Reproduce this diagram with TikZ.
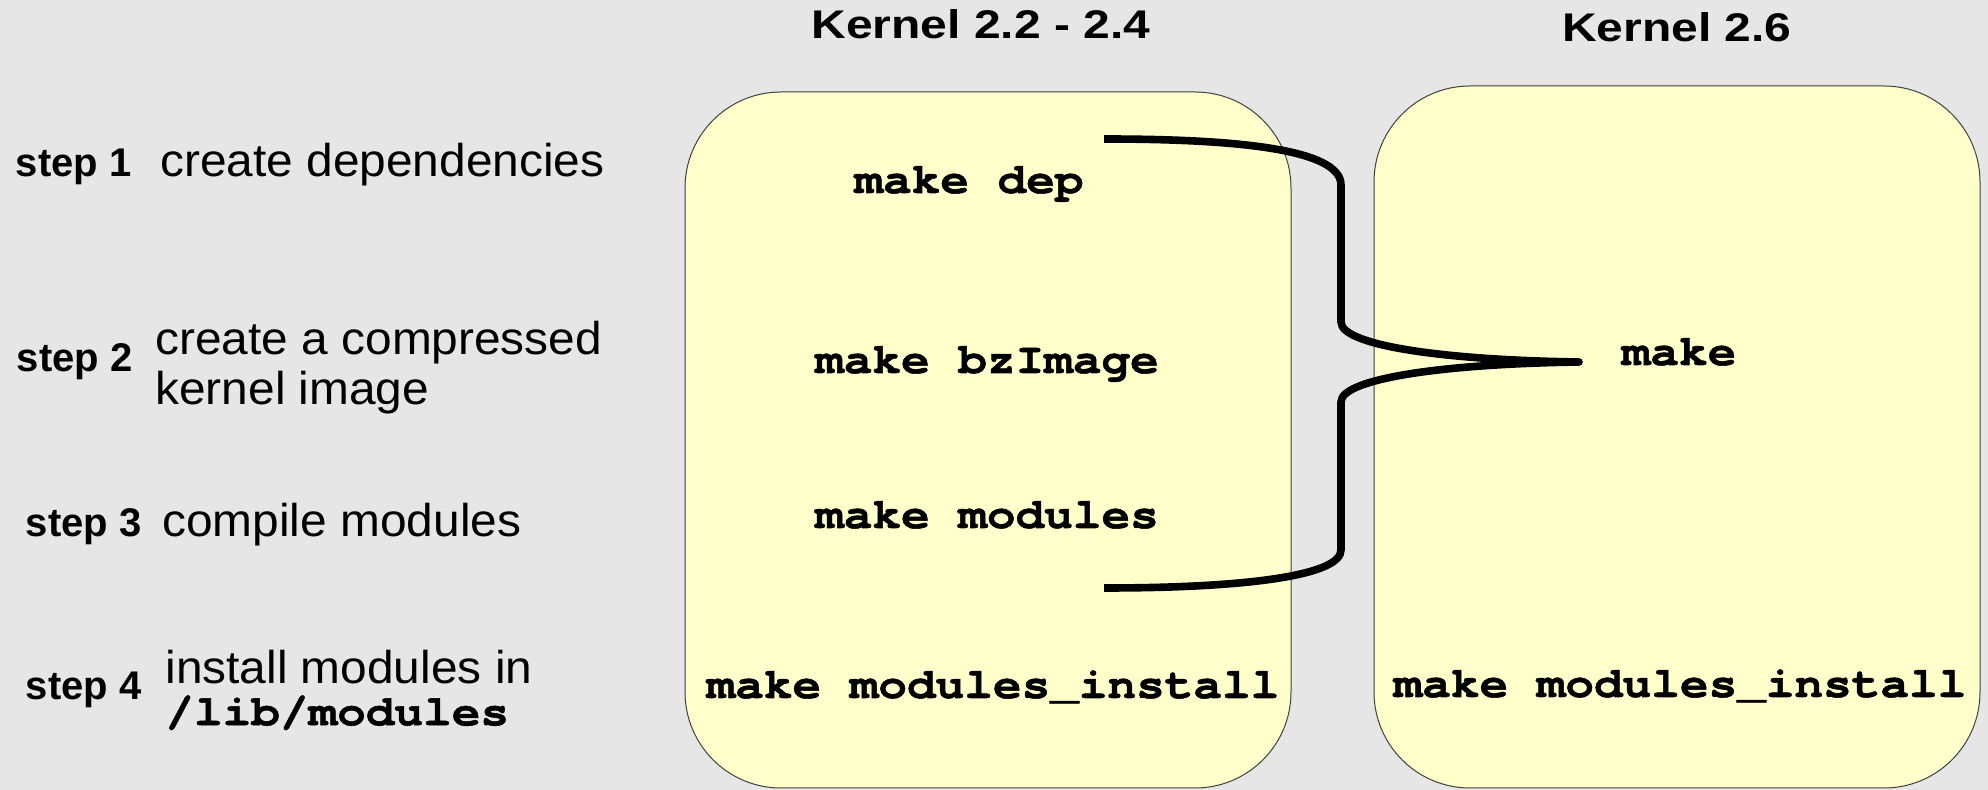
\documentclass[tikz,border=0pt]{standalone}
\usepackage{fontspec}
\setmainfont[FakeStretch=1.04]{Liberation Sans}
\setmonofont{texgyrecursor}[Extension=.otf, UprightFont=*-regular, BoldFont=*-bold,
    ItalicFont=*-italic, BoldItalicFont=*-bolditalic, FakeStretch=1.11,
    BoldFeatures={FakeBold=1.2}]
\newfontfamily\headfont[FakeStretch=1.2]{Liberation Sans}
\newfontfamily\stepfont{Liberation Sans}
\usepackage{tikz}
\usetikzlibrary{positioning}
\definecolor{SlideGray}{HTML}{E6E6E6}
\definecolor{NoteYellow}{HTML}{FFFFCC}

\begin{document}
\begin{tikzpicture}[x=0.5pt, y=-0.5pt, every node/.style={inner sep=0pt, font=\fontsize{23}{25}\selectfont}]
    \tikzstyle{kernelbox}=[draw=black!75, line width=0.5pt, fill=NoteYellow,
                           rounded corners=48pt, minimum width=303pt]
    \tikzstyle{cmd}=[anchor=base, font=\fontsize{21.5}{25}\selectfont\ttfamily\bfseries]
    \tikzstyle{head}=[font=\fontsize{20}{24}\selectfont\headfont\bfseries]
    \tikzstyle{steplabel}=[font=\fontsize{20}{24}\selectfont\stepfont\bfseries]
    \tikzstyle{desc}=[align=left]
    \tikzstyle{brace}=[line width=3.8pt, line join=round]

    \fill[SlideGray] (0,0) rectangle (1988,790);

    \node[kernelbox, minimum height=348pt] (box1) at (988,440) {};
    \node[kernelbox, minimum height=351pt] (box2) at (1677,437) {};
    \node[head, above=26pt of box1, xshift=-3.5pt] (head1) {Kernel 2.2 - 2.4};
    \node[head, above=21.5pt of box2] (head2) {Kernel 2.6};

    \node[desc, anchor=base west] (desc1) at (160,177) {create dependencies};
    \node[desc, anchor=west] (desc2) at (155,368) {create a compressed\\kernel image};
    \node[desc, anchor=base west] (desc3) at (162,537) {compile modules};
    \node[desc, anchor=west, font=\fontsize{23}{21}\selectfont] (desc4) at (165,690)
        {install modules in\\{\fontsize{21.5}{21}\selectfont\ttfamily\bfseries /lib/modules}};

    \node[steplabel, base left=14pt of desc1] (step1) {step 1};
    \node[steplabel, left=11pt of desc2, yshift=3pt] (step2) {step 2};
    \node[steplabel, base left=10pt of desc3] (step3) {step 3};
    \node[steplabel, left=11.5pt of desc4] (step4) {step 4};

    \node[cmd] (mkDep) at (969,193) {make dep};
    \node[cmd] (mkImage) at (987,373) {make bzImage};
    \node[cmd] (mkModules) at (987,528) {make modules};
    \node[cmd] (mkInstallOld) at (993,698) {make modules\_install};
    \node[cmd] (mkAll) at (1679,365) {make};
    \node[cmd] (mkInstallNew) at (1680,697) {make modules\_install};

    % brace from the three old steps to the single make
    \coordinate (braceTop) at (1104,139);
    \coordinate (braceTip) at (1579,362);
    \coordinate (braceBot) at (1104,588);
    \draw[brace] (braceTop) .. controls (1230,139) and (1341,148) .. (1341,185)
        -- (1341,322) .. controls (1341,345) and (1440,360) .. (braceTip)
        .. controls (1440,364) and (1341,379) .. (1341,402)
        -- (1341,550) .. controls (1341,575) and (1250,588) .. (braceBot);

\end{tikzpicture}
\end{document}
